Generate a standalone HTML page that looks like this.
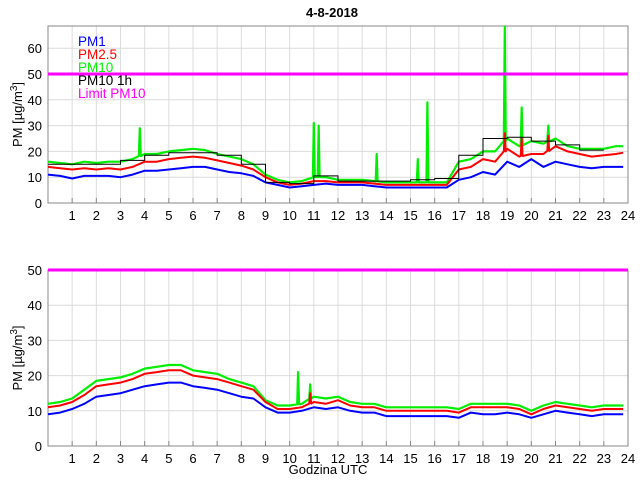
<!DOCTYPE html>
<html><head><meta charset="utf-8"><style>
body{margin:0;background:#fff}
svg text{font-family:"Liberation Sans",sans-serif}
</style></head><body>
<svg id="chart" width="640" height="480" xmlns="http://www.w3.org/2000/svg"></svg>
<script>
// ---- data ----
const hours=[1,2,3,4,5,6,7,8,9,10,11,12,13,14,15,16,17,18,19,20,21,22,23,24];
const times=[0,0.5,1,1.5,2,2.5,3,3.5,4,4.5,5,5.5,6,6.5,7,7.5,8,8.5,9,9.5,10,10.5,11,11.5,12,12.5,13,13.5,14,14.5,15,15.5,16,16.5,17,17.5,18,18.5,19,19.5,20,20.5,21,21.5,22,22.5,23,23.5,23.8];
const topPm1=[11,10.5,9.5,10.5,10.5,10.5,10,11,12.5,12.5,13,13.5,14,14,13,12,11.5,10.5,8,7,6,6.5,7,7.5,7,7,7,6.5,6,6,6,6,6,6,9,10,12,11,16,14,17,14,16,15,14,13.5,14,14,14];
const topPm25=[14,13.5,13,13.5,13,13.5,13,14,16,16,17,17.5,18,17.5,16.5,15.5,14.5,13,10,8,7,7.5,8.5,8.5,8,8,8,7.5,7,7,7,7,7,7,13,14,17,16,21,18,19,19,22,20,19,18,18.5,19,19.5];
const topPm10=[16,15.5,15,16,15.5,16,16,17,19,19,20,20.5,21,20.5,19,18,17,15,11,9,8,8.5,10,10,9,9,9,8.5,8,8,8,8,8,8,16,17,20,20,25,22,24,23,25,22,21,21,21,22,22];
const topSpikeT=[3.8,11,11.2,13.6,15.3,15.7,18.9,19.6,20.7];
const topSpikeV=[29,31,30,19,17,39,68.5,37,30];
const topPm25SpikeT=[18.9,19.6,20.7];
const topPm25SpikeV=[27,25,26];
const pm10Hourly=[15,15,15,16.5,18.5,19.5,19.5,18.5,15,8,7.5,10.5,8.5,8.5,8.5,9,9.5,18.5,25,25.5,24,22.5,20.5];
const botPm1=[9,9.5,10.5,12,14,14.5,15,16,17,17.5,18,18,17,16.5,16,15,14,13.5,11,9.5,9.5,10,11,10.5,11,10,9.5,9.5,8.5,8.5,8.5,8.5,8.5,8.5,8,9.5,9,9,9.5,9,8,9,10,9.5,9,8.5,9,9,9];
const botPm25=[11,11.5,12.5,14.5,17,17.5,18,19,20.5,21,21.5,21.5,20,19.5,19,18,17,16,12.5,10.5,10.5,11,12.5,12,13,11.5,11,11,10,10,10,10,10,10,9.5,11,11,11,11,10.5,9,10.5,11.5,11,10.5,10,10.5,10.5,10.5];
const botPm10=[12,12.5,13.5,16,18.5,19,19.5,20.5,22,22.5,23,23,21.5,21,20.5,19,18,17,13,11.5,11.5,12,14,13.5,14,12.5,12,12,11,11,11,11,11,11,10.5,12,12,12,12,11.5,10,11.5,12.5,12,11.5,11,11.5,11.5,11.5];
const botSpikeT=[10.35,10.85];
const botSpikeV=[21,17.5];
const botPm25SpikeT=[10.85];
const botPm25SpikeV=[15];
const limitVal=50;
const topTicks=[0,10,20,30,40,50,60];
const botTicks=[0,10,20,30,40,50];

const NS="http://www.w3.org/2000/svg";
const svg=document.getElementById('chart');
function mk(tag,attrs,parent){const e=document.createElementNS(NS,tag);for(const k in attrs)e.setAttribute(k,attrs[k]);(parent||svg).appendChild(e);return e;}
const X0=48,X1=628;
const xs=t=>X0+(X1-X0)*t/24;

function withSpikes(base,st,sv){
  const pts=times.map((t,i)=>[t,base[i]]);
  st.forEach((t,j)=>{
    let i=pts.findIndex(p=>p[0]>t);
    const a=pts[i-1],b=pts[i];
    const bv=a[1]+(b[1]-a[1])*(t-a[0])/(b[0]-a[0]);
    pts.splice(i,0,[t-0.04,bv],[t,sv[j]],[t+0.04,bv]);
  });
  return pts;
}

function panel(name,top,bot,ymax,ticks,p1,p25,p10,sT,sV,s25T,s25V,hourly,legend,xlabel){
  const g=mk('g',{});
  
  
  const ys=v=>bot-(bot-top)*v/ymax;
  hours.forEach(h=>{
    const l=mk('line',{x1:xs(h),x2:xs(h),y1:top,y2:bot,stroke:'#dcdcdc','stroke-width':1},g);
    
    
    mk('line',{x1:xs(h),x2:xs(h),y1:bot,y2:bot-5,stroke:'#888'},g);
    const tx=mk('text',{x:xs(h),y:bot+17,'text-anchor':'middle','font-size':13,fill:'#000'},g);
    tx.textContent=h;
    
    
  });
  ticks.forEach(v=>{
    if(v>0)mk('line',{x1:X0,x2:X1,y1:ys(v),y2:ys(v),stroke:'#dcdcdc'},g);
    const tx=mk('text',{x:X0-6,y:ys(v)+5,'text-anchor':'end','font-size':13,fill:'#000'},g);
    tx.textContent=v;
    
    
  });
  const box=mk('rect',{x:X0,y:top,width:X1-X0,height:bot-top,fill:'none',stroke:'#888'},g);
  
  
  const draw=(pts,color,sn,w)=>{
    const p=mk('polyline',{points:pts.map(q=>xs(q[0]).toFixed(1)+','+ys(Math.min(q[1],ymax)).toFixed(1)).join(' '),fill:'none',stroke:color,'stroke-width':w,'stroke-linejoin':'round'},g);
    
    
  };
  draw(withSpikes(p10,sT,sV),'#00ee00','pm10-line',2.2);
  draw(withSpikes(p25,s25T,s25V),'#ff0000','pm25-line',2);
  draw(withSpikes(p1,[],[]),'#0000ff','pm1-line',2);
  if(hourly){
    const pts=[];
    hourly.forEach((v,h)=>{pts.push([h,v]);pts.push([h+1,v]);});
    draw(pts,'#000','pm10-1h-line',1);
  }
  const lim=mk('line',{x1:X0,x2:X1,y1:ys(limitVal),y2:ys(limitVal),stroke:'#ff00ff','stroke-width':3},g);
  
  
  const yl=mk('text',{x:0,y:0,'font-size':13,'text-anchor':'middle',transform:`translate(22,${(top+bot)/2}) rotate(-90)`},g);
  yl.innerHTML='PM [µg/m<tspan dy="-5" font-size="10">3</tspan><tspan dy="5">]</tspan>';
  
  
  if(legend){
    const items=[['PM1','#0000ff'],['PM2.5','#ff0000'],['PM10','#00ee00'],['PM10 1h','#000'],['Limit PM10','#ff00ff']];
    items.forEach((it,i)=>{
      const t=mk('text',{x:78,y:46+i*13,'font-size':13.5,fill:it[1]},g);
      t.textContent=it[0];
      
      
    });
  }
  if(xlabel){
    const t=mk('text',{x:(X0+X1)/2-10,y:474,'font-size':13,'text-anchor':'middle'},g);
    t.textContent=xlabel;
    
    
  }
}
const title=mk('text',{x:332,y:17,'font-size':13,'font-weight':'bold','text-anchor':'middle'});
title.textContent='4-8-2018';


panel('top-panel',26,203,68.6,topTicks,topPm1,topPm25,topPm10,topSpikeT,topSpikeV,topPm25SpikeT,topPm25SpikeV,pm10Hourly,true,null);
panel('bottom-panel',270,446,50,botTicks,botPm1,botPm25,botPm10,botSpikeT,botSpikeV,botPm25SpikeT,botPm25SpikeV,null,false,'Godzina UTC');
</script>
</body></html>
